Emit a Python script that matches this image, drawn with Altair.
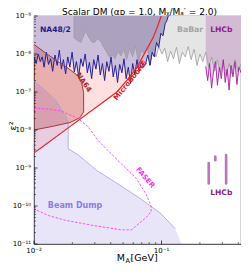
import altair as alt
import numpy as np
import pandas as pd

# ---------------- data (m_A' in GeV, epsilon^2) ----------------
na48_mass = [0.0100, 0.0104, 0.0108, 0.0112, 0.0116, 0.0120, 0.0125, 0.0130, 0.0135, 0.0140,
             0.0146, 0.0152, 0.0158, 0.0164, 0.0170, 0.0177, 0.0184, 0.0191, 0.0199, 0.0207,
             0.0215, 0.0224, 0.0233, 0.0242, 0.0252, 0.0262, 0.0272, 0.0283, 0.0294, 0.0306,
             0.0318, 0.0331, 0.0344, 0.0358, 0.0372, 0.0387, 0.0402, 0.0418, 0.0435, 0.0452,
             0.0470, 0.0489, 0.0508, 0.0528, 0.0549, 0.0571, 0.0594, 0.0618, 0.0642, 0.0668,
             0.0695, 0.0722, 0.0751, 0.0781, 0.0812, 0.0845, 0.0878, 0.0913, 0.0950, 0.0988,
             0.1027, 0.1068, 0.1100, 0.1130]
na48_eps2 = [8.4e-7, 5.6e-7, 1.0e-6, 6.3e-7, 8.4e-7, 4.5e-7, 1.12e-6, 5.3e-7, 7.5e-7, 3.5e-7,
             9.4e-7, 5.0e-7, 1.26e-6, 4.0e-7, 7.1e-7, 3.0e-7, 8.4e-7, 4.5e-7, 1.12e-6, 3.35e-7,
             6.3e-7, 2.5e-7, 7.5e-7, 4.7e-7, 1.0e-6, 3.2e-7, 6.0e-7, 2.24e-7, 7.1e-7, 4.0e-7,
             9.4e-7, 2.8e-7, 5.6e-7, 2.0e-7, 6.3e-7, 3.5e-7, 8.4e-7, 2.5e-7, 5.0e-7, 1.78e-7,
             5.3e-7, 3.2e-7, 7.5e-7, 2.24e-7, 4.5e-7, 1.68e-7, 5.6e-7, 2.8e-7, 7.1e-7, 3.5e-7,
             6.3e-7, 4.5e-7, 5.6e-7, 9.4e-7, 5.0e-7, 1.12e-6, 8.4e-7, 2.0e-6, 1.5e-6, 3.5e-6,
             3.0e-6, 6.3e-6, 7.5e-6, 1.0e-5]

babar_mass = [0.0206, 0.0206, 0.0221, 0.0233, 0.0245, 0.0254, 0.0268, 0.0283, 0.0298, 0.0314,
              0.0331, 0.0349, 0.0368, 0.0388, 0.0409, 0.0432, 0.0455, 0.0480, 0.0506, 0.0533,
              0.0562, 0.0593, 0.0625, 0.0659, 0.0695, 0.0733, 0.0773, 0.0814, 0.0858, 0.0905,
              0.0954, 0.1006, 0.1060, 0.1117, 0.1178, 0.1240, 0.1310, 0.1380, 0.1455, 0.1535,
              0.1620, 0.1706, 0.1800, 0.1900, 0.2000, 0.2110, 0.2223, 0.2345, 0.2470, 0.2600,
              0.2745, 0.2890, 0.3050, 0.3210, 0.3390, 0.3570, 0.3770, 0.3970, 0.4200]
babar_eps2 = [1.0e-5, 2.66e-6, 2.24e-6, 2.0e-6, 3.0e-6, 4.0e-6, 2.8e-6, 2.1e-6, 2.0e-6, 2.5e-6,
              2.24e-6, 1.58e-6, 1.2e-6, 8.4e-7, 9.4e-7, 7.5e-7, 1.2e-6, 8.9e-7, 1.33e-6, 7.1e-7,
              1.41e-6, 8.4e-7, 1.58e-6, 6.3e-7, 1.26e-6, 1.0e-6, 1.5e-6, 5.3e-7, 1.33e-6, 8.4e-7,
              1.58e-6, 1.0e-6, 1.41e-6, 6.3e-7, 1.2e-6, 7.5e-7, 1.5e-6, 5.6e-7, 1.12e-6, 8.4e-7,
              1.58e-6, 7.1e-7, 1.33e-6, 5.0e-7, 1.0e-6, 6.3e-7, 1.12e-6, 4.5e-7, 8.4e-7, 3.5e-7,
              7.1e-7, 3.2e-7, 6.3e-7, 2.66e-7, 5.6e-7, 3.0e-7, 7.1e-7, 3.5e-7, 5.6e-7]

lhcb_mass = [0.2222, 0.2301, 0.2384, 0.2469, 0.2557, 0.2649, 0.2744, 0.2842, 0.2944, 0.3049,
             0.3159, 0.3272, 0.3389, 0.3510, 0.3636, 0.3767, 0.3902, 0.4042, 0.4200]
lhcb_eps2 = [4.7e-7, 2.0e-7, 5.6e-7, 1.26e-7, 3.5e-7, 6.3e-7, 1.5e-7, 4.5e-7, 2.24e-7, 7.1e-7,
             1.78e-7, 4.0e-7, 1.12e-7, 5.0e-7, 2.5e-7, 6.3e-7, 1.58e-7, 4.5e-7, 3.2e-7]

lhcb_displaced_mass = [0.2345, 0.2640, 0.3210]
lhcb_displaced_lo = [3.9e-10, 1.6e-9, 3.9e-10]
lhcb_displaced_hi = [1.35e-9, 2.0e-9, 2.2e-9]

microboone_mass = [0.0100, 0.0116, 0.0164, 0.0300, 0.0447, 0.0533, 0.0635, 0.0759, 0.0858, 0.0937, 0.0995]
microboone_eps2 = [2.5e-9, 3.55e-9, 8.4e-9, 3.76e-8, 1.0e-7, 2.0e-7, 4.2e-7, 1.26e-6, 2.66e-6, 5.6e-6, 1.0e-5]

na64_mass = [0.0100, 0.01236, 0.0150, 0.01854, 0.0221, 0.0237, 0.0245, 0.0245, 0.0229, 0.0192, 0.01422, 0.0100]
na64_eps2 = [1.78e-6, 1.06e-6, 6.7e-7, 4.2e-7, 2.66e-7, 1.68e-7, 9.4e-8, 3.0e-8, 2.1e-8, 1.58e-8, 1.26e-8, 1.0e-8]

beamdump_mass = [0.0100, 0.01472, 0.01788, 0.01854, 0.01854, 0.0192, 0.0221, 0.0314, 0.0471,
                 0.0695, 0.0988, 0.1285, 0.1430, 0.0100]
beamdump_eps2 = [2.0e-7, 6.3e-8, 2.24e-8, 1.5e-8, 3.16e-9, 2.99e-9, 2.24e-9, 8.4e-10, 3.55e-10,
                 1.5e-10, 6.3e-11, 2.5e-11, 1.0e-11, 1.0e-11]

faser_mass = [0.0100, 0.0130, 0.01637, 0.0221, 0.02636, 0.0314, 0.0375, 0.0506, 0.0635, 0.0759,
              0.0828, 0.0828, 0.0759, 0.0582, 0.0480, 0.0278, 0.0176, 0.0130, 0.0100]
faser_eps2 = [3.76e-8, 3.55e-8, 3.16e-8, 2.0e-8, 1.26e-8, 5.6e-9, 3.0e-9, 1.12e-9, 5.3e-10, 2.0e-10,
              1.0e-10, 7.1e-11, 5.0e-11, 2.37e-11, 2.37e-11, 3.16e-11, 4.2e-11, 5.6e-11, 8.4e-11]

label_text = ["NA48/2", "BaBar", "LHCb", "NA64", "MicroBooNE", "FASER", "Beam Dump", "LHCb"]
label_mass = [0.0147, 0.1675, 0.294, 0.0245, 0.0572, 0.0745, 0.0210, 0.294]
label_eps2 = [4.2e-6, 4.2e-6, 4.2e-6, 1.78e-7, 2.0e-7, 5.6e-10, 1.0e-10, 2.24e-10]
label_color = ["#1c1c88", "#a3a3a3", "#8e1f8e", "#a52a2a", "#ee2020", "#f22ff2", "#8b7fe0", "#8e1f8e"]
label_size = [7.6, 7.8, 7.6, 7.2, 7.2, 7.0, 8.0, 7.6]
label_angle = [0, 0, 0, 56, 309, 50, 0, 0]

x_major = [0.01, 0.1]
x_major_text = ["10⁻²", "10⁻¹"]
x_minor = [0.02, 0.03, 0.04, 0.05, 0.06, 0.07, 0.08, 0.09, 0.2, 0.3, 0.4]
y_major = [1e-11, 1e-10, 1e-9, 1e-8, 1e-7, 1e-6, 1e-5]
y_major_text = ["10⁻¹¹", "10⁻¹⁰", "10⁻⁹", "10⁻⁸", "10⁻⁷", "10⁻⁶", "10⁻⁵"]
y_minor = [m * 10.0 ** e for e in range(-11, -5) for m in range(2, 10)]

XMIN, XMAX = 0.01, 0.42
YMIN, YMAX = 1e-11, 1e-5

TITLE = "Scalar DM  (αᴅ = 1.0, Mᵪ/Mₐ′ = 2.0)"
FONT = "DejaVu Sans"
W, H = 207, 228

# ---------------- derived polygon: NA48/2 ∩ BaBar overlap ----------------
lbx, lby = np.log10(babar_mass[1:]), np.log10(babar_eps2[1:])
lnx, lny = np.log10(na48_mass), np.log10(na48_eps2)
grid = sorted(set([m for m in babar_mass[1:] if m <= na48_mass[-1]] +
                  [m for m in na48_mass if m >= babar_mass[0]]))
low = [max(np.interp(np.log10(g), lbx, lby), np.interp(np.log10(g), lnx, lny)) for g in grid]
overlap_mass = [babar_mass[0]] + grid + [na48_mass[-1]]
overlap_eps2 = [YMAX] + [10 ** v for v in low] + [YMAX]

xs = alt.Scale(type="log", domain=[XMIN, XMAX], nice=False)
ys = alt.Scale(type="log", domain=[YMIN, YMAX], nice=False)


def poly_df(mx, ey):
    return pd.DataFrame({"m": list(mx), "e": list(ey), "o": list(range(len(mx)))})


def enc(ch):
    return ch.encode(x=alt.X("m:Q", scale=xs, axis=None),
                     y=alt.Y("e:Q", scale=ys, axis=None),
                     order=alt.Order("o:Q"))


def filled(mx, ey, color, opacity=1.0):
    return enc(alt.Chart(poly_df(mx, ey)).mark_line(
        fill=color, fillOpacity=opacity, strokeOpacity=0, clip=True))


def outline(mx, ey, color, width=1.0, dash=None):
    kw = dict(color=color, strokeWidth=width, clip=True, fill=None)
    if dash:
        kw["strokeDash"] = dash
    return enc(alt.Chart(poly_df(mx, ey)).mark_line(**kw))


layers = []
# fills
layers.append(filled(microboone_mass + [XMIN], microboone_eps2 + [YMAX], "#ff0000", 0.12))
layers.append(filled(babar_mass + [XMAX], babar_eps2 + [YMAX], "#e5e5e5"))
layers.append(filled(na48_mass + [XMIN], na48_eps2 + [YMAX], "#cbbedb"))
layers.append(filled(overlap_mass, overlap_eps2, "#aca1bf"))
layers.append(filled([lhcb_mass[0]] + lhcb_mass + [XMAX], [YMAX] + lhcb_eps2 + [YMAX], "#a040a0", 0.25))
layers.append(filled(beamdump_mass, beamdump_eps2, "#8a7be0", 0.2))
layers.append(filled(na64_mass, na64_eps2, "#b03030", 0.28))
# outlines / limit curves
layers.append(outline(babar_mass, babar_eps2, "#9c9c9c", 0.8))
layers.append(outline(na48_mass, na48_eps2, "#23239a", 1.0))
layers.append(outline(lhcb_mass, lhcb_eps2, "#a3209f", 0.9))
layers.append(outline(beamdump_mass[:-2], beamdump_eps2[:-2], "#aa9ee8", 0.8))
layers.append(outline(na64_mass, na64_eps2, "#a33a3a", 1.0))
layers.append(outline(faser_mass, faser_eps2, "#ff3dff", 0.9, dash=[2.5, 1.5]))
layers.append(outline(microboone_mass, microboone_eps2, "#ee2222", 1.2))

# LHCb displaced islands
isl = pd.DataFrame({"m": lhcb_displaced_mass, "lo": lhcb_displaced_lo, "hi": lhcb_displaced_hi})
layers.append(alt.Chart(isl).mark_rule(color="#a646a6", strokeWidth=2.6, strokeCap="round",
                                       opacity=0.75, clip=True).encode(
    x=alt.X("m:Q", scale=xs, axis=None),
    y=alt.Y("lo:Q", scale=ys, axis=None), y2="hi:Q"))

# region labels
for t, m, e, c, s, a in zip(label_text, label_mass, label_eps2, label_color, label_size, label_angle):
    df = pd.DataFrame({"m": [m], "e": [e], "t": [t]})
    layers.append(alt.Chart(df).mark_text(font=FONT, fontWeight="bold", fontSize=s, color=c,
                                          angle=a, align="center", baseline="middle").encode(
        x=alt.X("m:Q", scale=xs, axis=None), y=alt.Y("e:Q", scale=ys, axis=None), text="t:N"))

# inward ticks
layers.append(alt.Chart(pd.DataFrame({"v": x_major})).mark_rule(color="black", strokeWidth=0.7).encode(
    x=alt.X("v:Q", scale=xs, axis=None), y=alt.value(H), y2=alt.value(H - 3.5)))
layers.append(alt.Chart(pd.DataFrame({"v": x_minor})).mark_rule(color="black", strokeWidth=0.5).encode(
    x=alt.X("v:Q", scale=xs, axis=None), y=alt.value(H), y2=alt.value(H - 2)))
layers.append(alt.Chart(pd.DataFrame({"v": y_major})).mark_rule(color="black", strokeWidth=0.7).encode(
    y=alt.Y("v:Q", scale=ys, axis=None), x=alt.value(0), x2=alt.value(3.5)))
layers.append(alt.Chart(pd.DataFrame({"v": y_minor})).mark_rule(color="black", strokeWidth=0.5).encode(
    y=alt.Y("v:Q", scale=ys, axis=None), x=alt.value(0), x2=alt.value(2)))

# tick labels
layers.append(alt.Chart(pd.DataFrame({"v": x_major, "t": x_major_text})).mark_text(
    font=FONT, fontSize=7, color="black", align="center", baseline="top").encode(
    x=alt.X("v:Q", scale=xs, axis=None), y=alt.value(H + 2.5), text="t:N"))
layers.append(alt.Chart(pd.DataFrame({"v": y_major, "t": y_major_text})).mark_text(
    font=FONT, fontSize=7, color="black", align="right", baseline="middle").encode(
    y=alt.Y("v:Q", scale=ys, axis=None), x=alt.value(-3), text="t:N"))

one = pd.DataFrame({"a": [0]})


def txt(t, x, y, size, **kw):
    return alt.Chart(one).mark_text(text=t, font=FONT, fontSize=size, color="black", **kw).encode(
        x=alt.value(x), y=alt.value(y))


layers.append(txt(TITLE, W / 2 + 2, -0.6, 9.0, align="center", baseline="alphabetic"))
layers.append(txt("M", 91, 244.5, 9.5, align="right", baseline="alphabetic"))
layers.append(txt("A′", 91.5, 246.5, 6.5, align="left", baseline="alphabetic"))
layers.append(txt("[GeV]", 96.5, 244.5, 9.5, align="left", baseline="alphabetic"))
layers.append(txt("ε²", -21, 110, 9.5, align="center", baseline="middle", angle=270))

chart = alt.layer(*layers).properties(
    width=W, height=H,
    autosize=alt.AutoSizeParams(type="none"),
    padding={"left": 26, "top": 8, "right": 0, "bottom": 19},
).configure_view(stroke="black", strokeWidth=0.8)

chart.save("out.html", embed_options={"renderer": "svg", "actions": False})
